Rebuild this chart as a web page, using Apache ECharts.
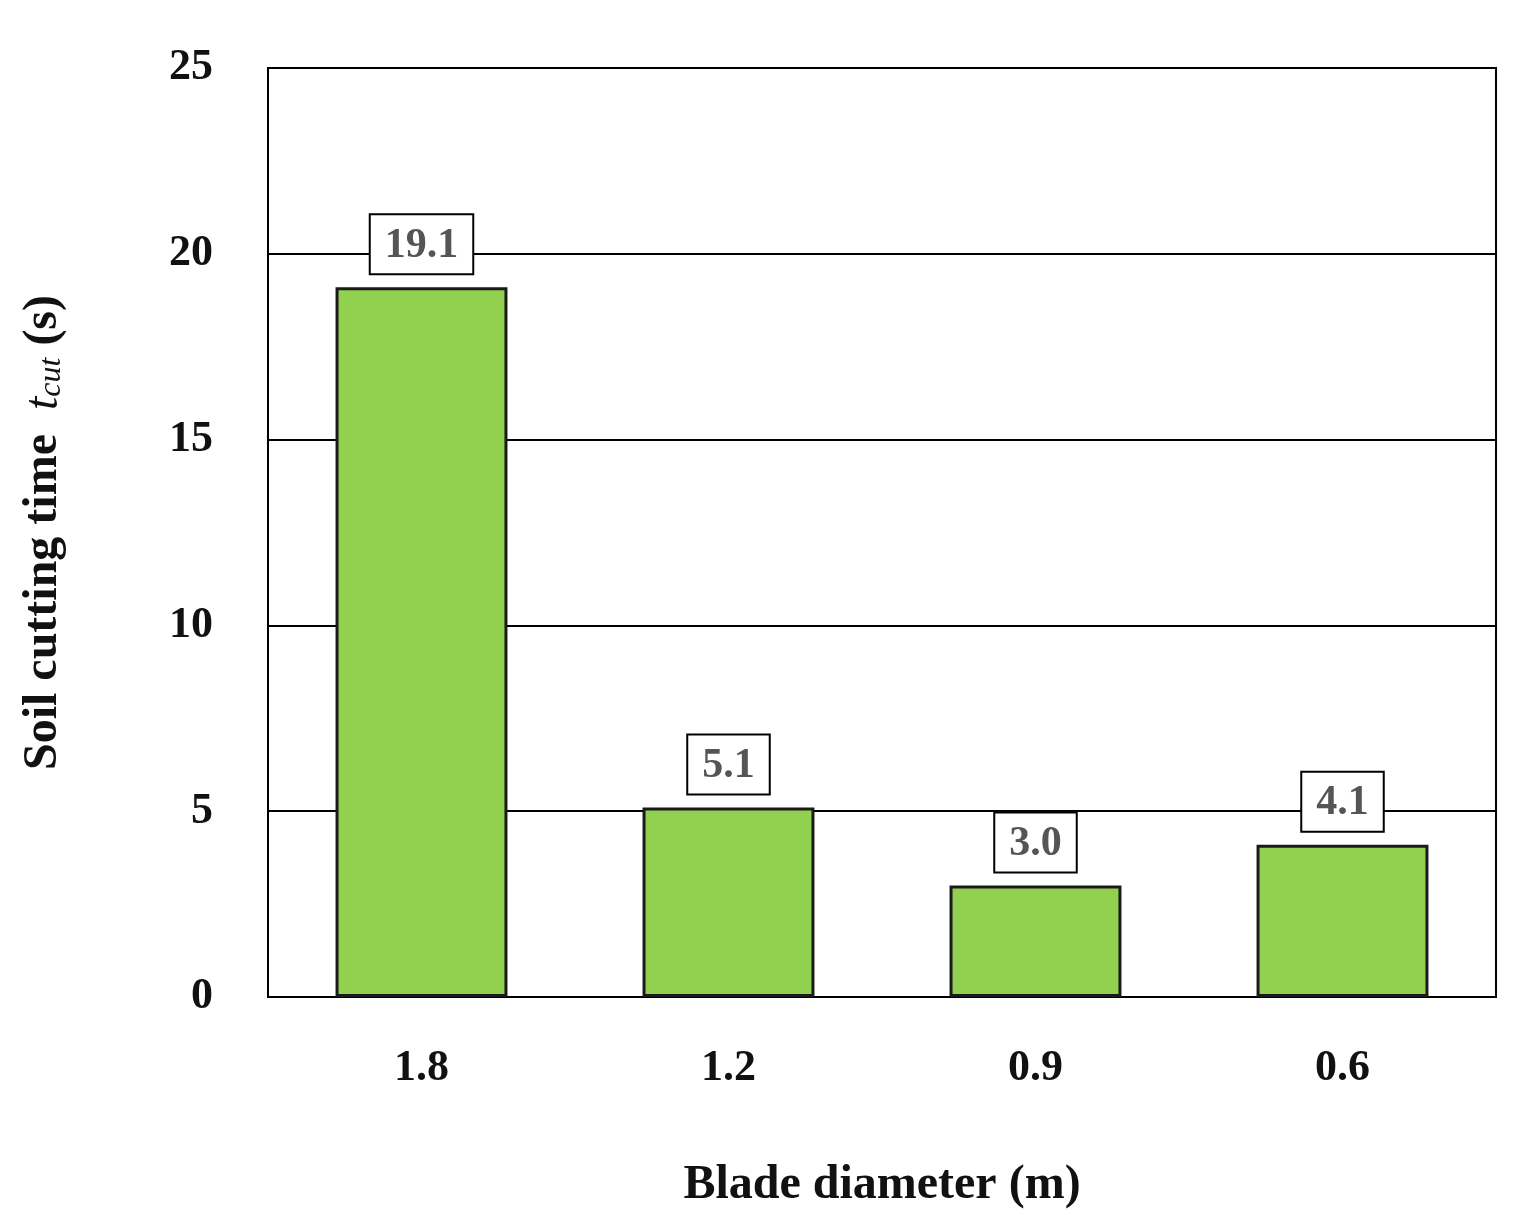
<!DOCTYPE html>
<html>
<head>
<meta charset="utf-8">
<script src="https://cdn.jsdelivr.net/npm/echarts@6/dist/echarts.min.js"></script>
<style>html,body{margin:0;padding:0;background:#fff}#chart{width:1528px;height:1215px}</style>
</head>
<body>
<div id="chart"></div>
<script>
var categories = ['1.8', '1.2', '0.9', '0.6'];
var cutTimes = [19.1, 5.1, 3.0, 4.1];

var font = 'Liberation Serif';
var chart = echarts.init(document.getElementById('chart'));
chart.setOption({
    backgroundColor: '#fff',
    grid: {left: 268, right: 32, top: 68, bottom: 215, show: true, borderColor: '#000', borderWidth: 2},
    xAxis: {
        type: 'category',
        data: categories,
        name: 'Blade diameter (m)',
        nameLocation: 'middle',
        nameGap: 165,
        nameTextStyle: {fontFamily: font, fontWeight: 'bold', fontSize: 48, color: '#111'},
        axisLine: {lineStyle: {color: '#000', width: 2}},
        axisTick: {show: false},
        axisLabel: {fontFamily: font, fontWeight: 'bold', fontSize: 44, color: '#111', margin: 50}
    },
    yAxis: {
        type: 'value',
        min: 0, max: 25, interval: 5,
        name: '{a|Soil cutting time  }{i|t}{s|cut}{a| (s)}',
        nameLocation: 'middle',
        nameRotate: 90,
        nameGap: 200,
        nameTextStyle: {
            rich: {
                a: {fontFamily: font, fontWeight: 'bold', fontSize: 48, color: '#111'},
                i: {fontFamily: font, fontStyle: 'italic', fontSize: 48, color: '#111'},
                s: {fontFamily: font, fontStyle: 'italic', fontSize: 32, color: '#111', verticalAlign: 'bottom', padding: [14, 0, 0, 0]}
            }
        },
        axisLine: {show: false},
        axisTick: {show: false},
        axisLabel: {fontFamily: font, fontWeight: 'bold', fontSize: 44, color: '#111', margin: 55},
        splitLine: {lineStyle: {color: '#000', width: 2}}
    },
    series: [{
        type: 'bar',
        data: cutTimes,
        barWidth: '56%',
        itemStyle: {color: '#92d050', borderColor: '#1a1a1a', borderWidth: 3},
        label: {
            show: true,
            position: 'top',
            distance: 14,
            formatter: function(p) { return p.value.toFixed(1); },
            fontFamily: font, fontWeight: 'bold', fontSize: 42, color: '#555',
            backgroundColor: '#fff', borderColor: '#000', borderWidth: 2,
            padding: [10, 14, 6, 14]
        }
    }]
});
</script>
</body>
</html>
